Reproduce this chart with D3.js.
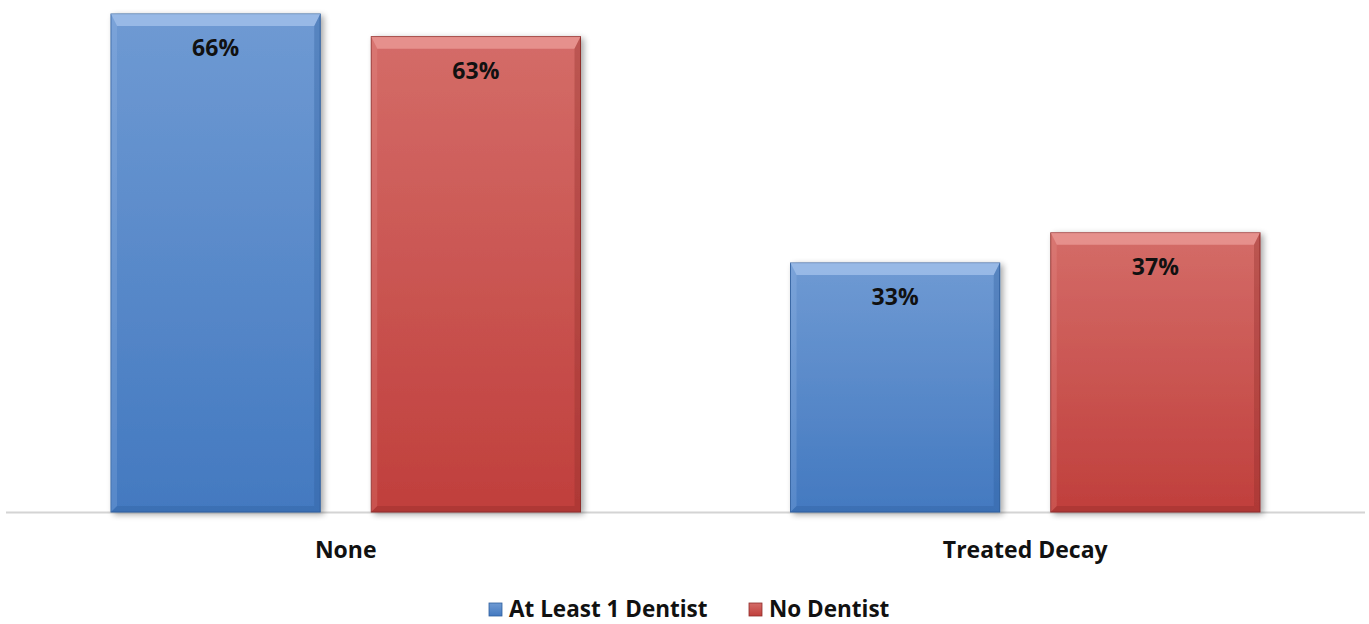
<!DOCTYPE html>
<html>
<head>
<meta charset="utf-8">
<script src="https://cdn.jsdelivr.net/npm/d3@7"></script>
<style>
    body { margin: 0; background: #fff; }
    text { font-family: "Open Sans", sans-serif; font-weight: bold; fill: #111; }
</style>
</head>
<body>
<svg id="chart" width="1369" height="624"></svg>
<script>
var categories = ['None', 'Treated Decay'];
var seriesNames = ['At Least 1 Dentist', 'No Dentist'];
var atLeastOne = [0.66, 0.33];
var noDentist = [0.63, 0.37];

var colors = {
    'At Least 1 Dentist': { top: '#6f9ad3', bottom: '#4379c0', edge: '#2f5f9e', light: '#a9c6ee' },
    'No Dentist': { top: '#d46c68', bottom: '#c03f3c', edge: '#8f2e2c', light: '#ee9f9c' }
};

var svg = d3.select('#chart');
var base = 512;

var rows = categories.map(function (c, i) {
    return { cat: c, values: [
        { name: seriesNames[0], v: atLeastOne[i] },
        { name: seriesNames[1], v: noDentist[i] }
    ] };
});

var x0 = d3.scaleBand().domain(categories).range([6, 1365]);
var x1 = d3.scaleBand().domain(seriesNames)
    .range([105, x0.bandwidth() - 105])
    .paddingInner(51 / 260);
// 1% = 7.545px
var y = d3.scaleLinear().domain([0, 0.7]).range([base, base - 70 * 7.545]);

var defs = svg.append('defs');
var f = defs.append('filter').attr('id', 'shadow')
    .attr('x', '-10%').attr('y', '-10%').attr('width', '125%').attr('height', '125%');
f.append('feGaussianBlur').attr('in', 'SourceAlpha').attr('stdDeviation', 3);
f.append('feOffset').attr('dx', 3).attr('dy', 2);
f.append('feComponentTransfer').append('feFuncA').attr('type', 'linear').attr('slope', 0.35);
var m = f.append('feMerge');
m.append('feMergeNode');
m.append('feMergeNode').attr('in', 'SourceGraphic');

seriesNames.forEach(function (s, i) {
    var g = defs.append('linearGradient').attr('id', 'grad' + i)
        .attr('x1', 0).attr('y1', 0).attr('x2', 0).attr('y2', 1);
    g.append('stop').attr('offset', '0%').attr('stop-color', colors[s].top);
    g.append('stop').attr('offset', '100%').attr('stop-color', colors[s].bottom);
});

// axis line
svg.append('line')
    .attr('x1', 6).attr('x2', 1365)
    .attr('y1', base + 0.5).attr('y2', base + 0.5)
    .style('stroke', '#d4d4d4').style('stroke-width', 2);

var groups = svg.selectAll('.cat').data(rows).enter().append('g')
    .attr('transform', function (d) { return 'translate(' + x0(d.cat) + ',0)'; });

var bev = 6;
var bars = groups.selectAll('.bar').data(function (d) { return d.values; }).enter().append('g')
    .attr('filter', 'url(#shadow)');

bars.append('rect')
    .attr('x', function (d) { return x1(d.name); })
    .attr('y', function (d) { return y(d.v); })
    .attr('width', x1.bandwidth())
    .attr('height', function (d) { return base - y(d.v); })
    .style('fill', function (d) { return 'url(#grad' + seriesNames.indexOf(d.name) + ')'; })
    .style('stroke', function (d) { return colors[d.name].edge; })
    .style('stroke-width', 1);

// bevel: top light strip
bars.append('path')
    .attr('d', function (d) {
        var l = x1(d.name), r = l + x1.bandwidth(), t = y(d.v);
        return 'M' + l + ',' + t + 'L' + r + ',' + t + 'L' + (r - bev) + ',' + (t + bev * 2) +
            'L' + (l + bev) + ',' + (t + bev * 2) + 'Z';
    })
    .style('fill', function (d) { return colors[d.name].light; })
    .style('opacity', 0.7);

// bevel: right and bottom dark strips, left faint light strip
bars.append('path')
    .attr('d', function (d) {
        var l = x1(d.name), r = l + x1.bandwidth(), t = y(d.v);
        return 'M' + r + ',' + t + 'L' + r + ',' + base + 'L' + (r - bev) + ',' + (base - bev) +
            'L' + (r - bev) + ',' + (t + bev * 2) + 'Z';
    })
    .style('fill', function (d) { return colors[d.name].edge; })
    .style('opacity', 0.35);
bars.append('path')
    .attr('d', function (d) {
        var l = x1(d.name), r = l + x1.bandwidth();
        return 'M' + l + ',' + base + 'L' + r + ',' + base + 'L' + (r - bev) + ',' + (base - bev) +
            'L' + (l + bev) + ',' + (base - bev) + 'Z';
    })
    .style('fill', function (d) { return colors[d.name].edge; })
    .style('opacity', 0.35);
bars.append('path')
    .attr('d', function (d) {
        var l = x1(d.name), t = y(d.v);
        return 'M' + l + ',' + t + 'L' + (l + bev) + ',' + (t + bev * 2) + 'L' + (l + bev) + ',' + (base - bev) +
            'L' + l + ',' + base + 'Z';
    })
    .style('fill', function (d) { return colors[d.name].light; })
    .style('opacity', 0.2);

// value labels
groups.selectAll('.val').data(function (d) { return d.values; }).enter().append('text')
    .attr('x', function (d) { return x1(d.name) + x1.bandwidth() / 2; })
    .attr('y', function (d) { return y(d.v) + 42; })
    .attr('text-anchor', 'middle')
    .style('font-size', '23px')
    .text(function (d) { return Math.round(d.v * 100) + '%'; });

// category labels
svg.selectAll('.catlabel').data(categories).enter().append('text')
    .attr('x', function (d) { return x0(d) + x0.bandwidth() / 2; })
    .attr('y', 558)
    .attr('text-anchor', 'middle')
    .style('font-size', '23px')
    .text(function (d) { return d; });

// legend
var legendX = [489, 749];
var leg = svg.selectAll('.leg').data(seriesNames).enter().append('g')
    .attr('transform', function (d, i) { return 'translate(' + legendX[i] + ',603)'; });
leg.append('rect')
    .attr('width', 13).attr('height', 13)
    .style('fill', function (d, i) { return 'url(#grad' + i + ')'; })
    .style('stroke', function (d) { return colors[d].edge; })
    .style('stroke-width', 0.8);
leg.append('text')
    .attr('x', 20).attr('y', 14)
    .style('font-size', '22.5px')
    .text(function (d) { return d; });
</script>
</body>
</html>
